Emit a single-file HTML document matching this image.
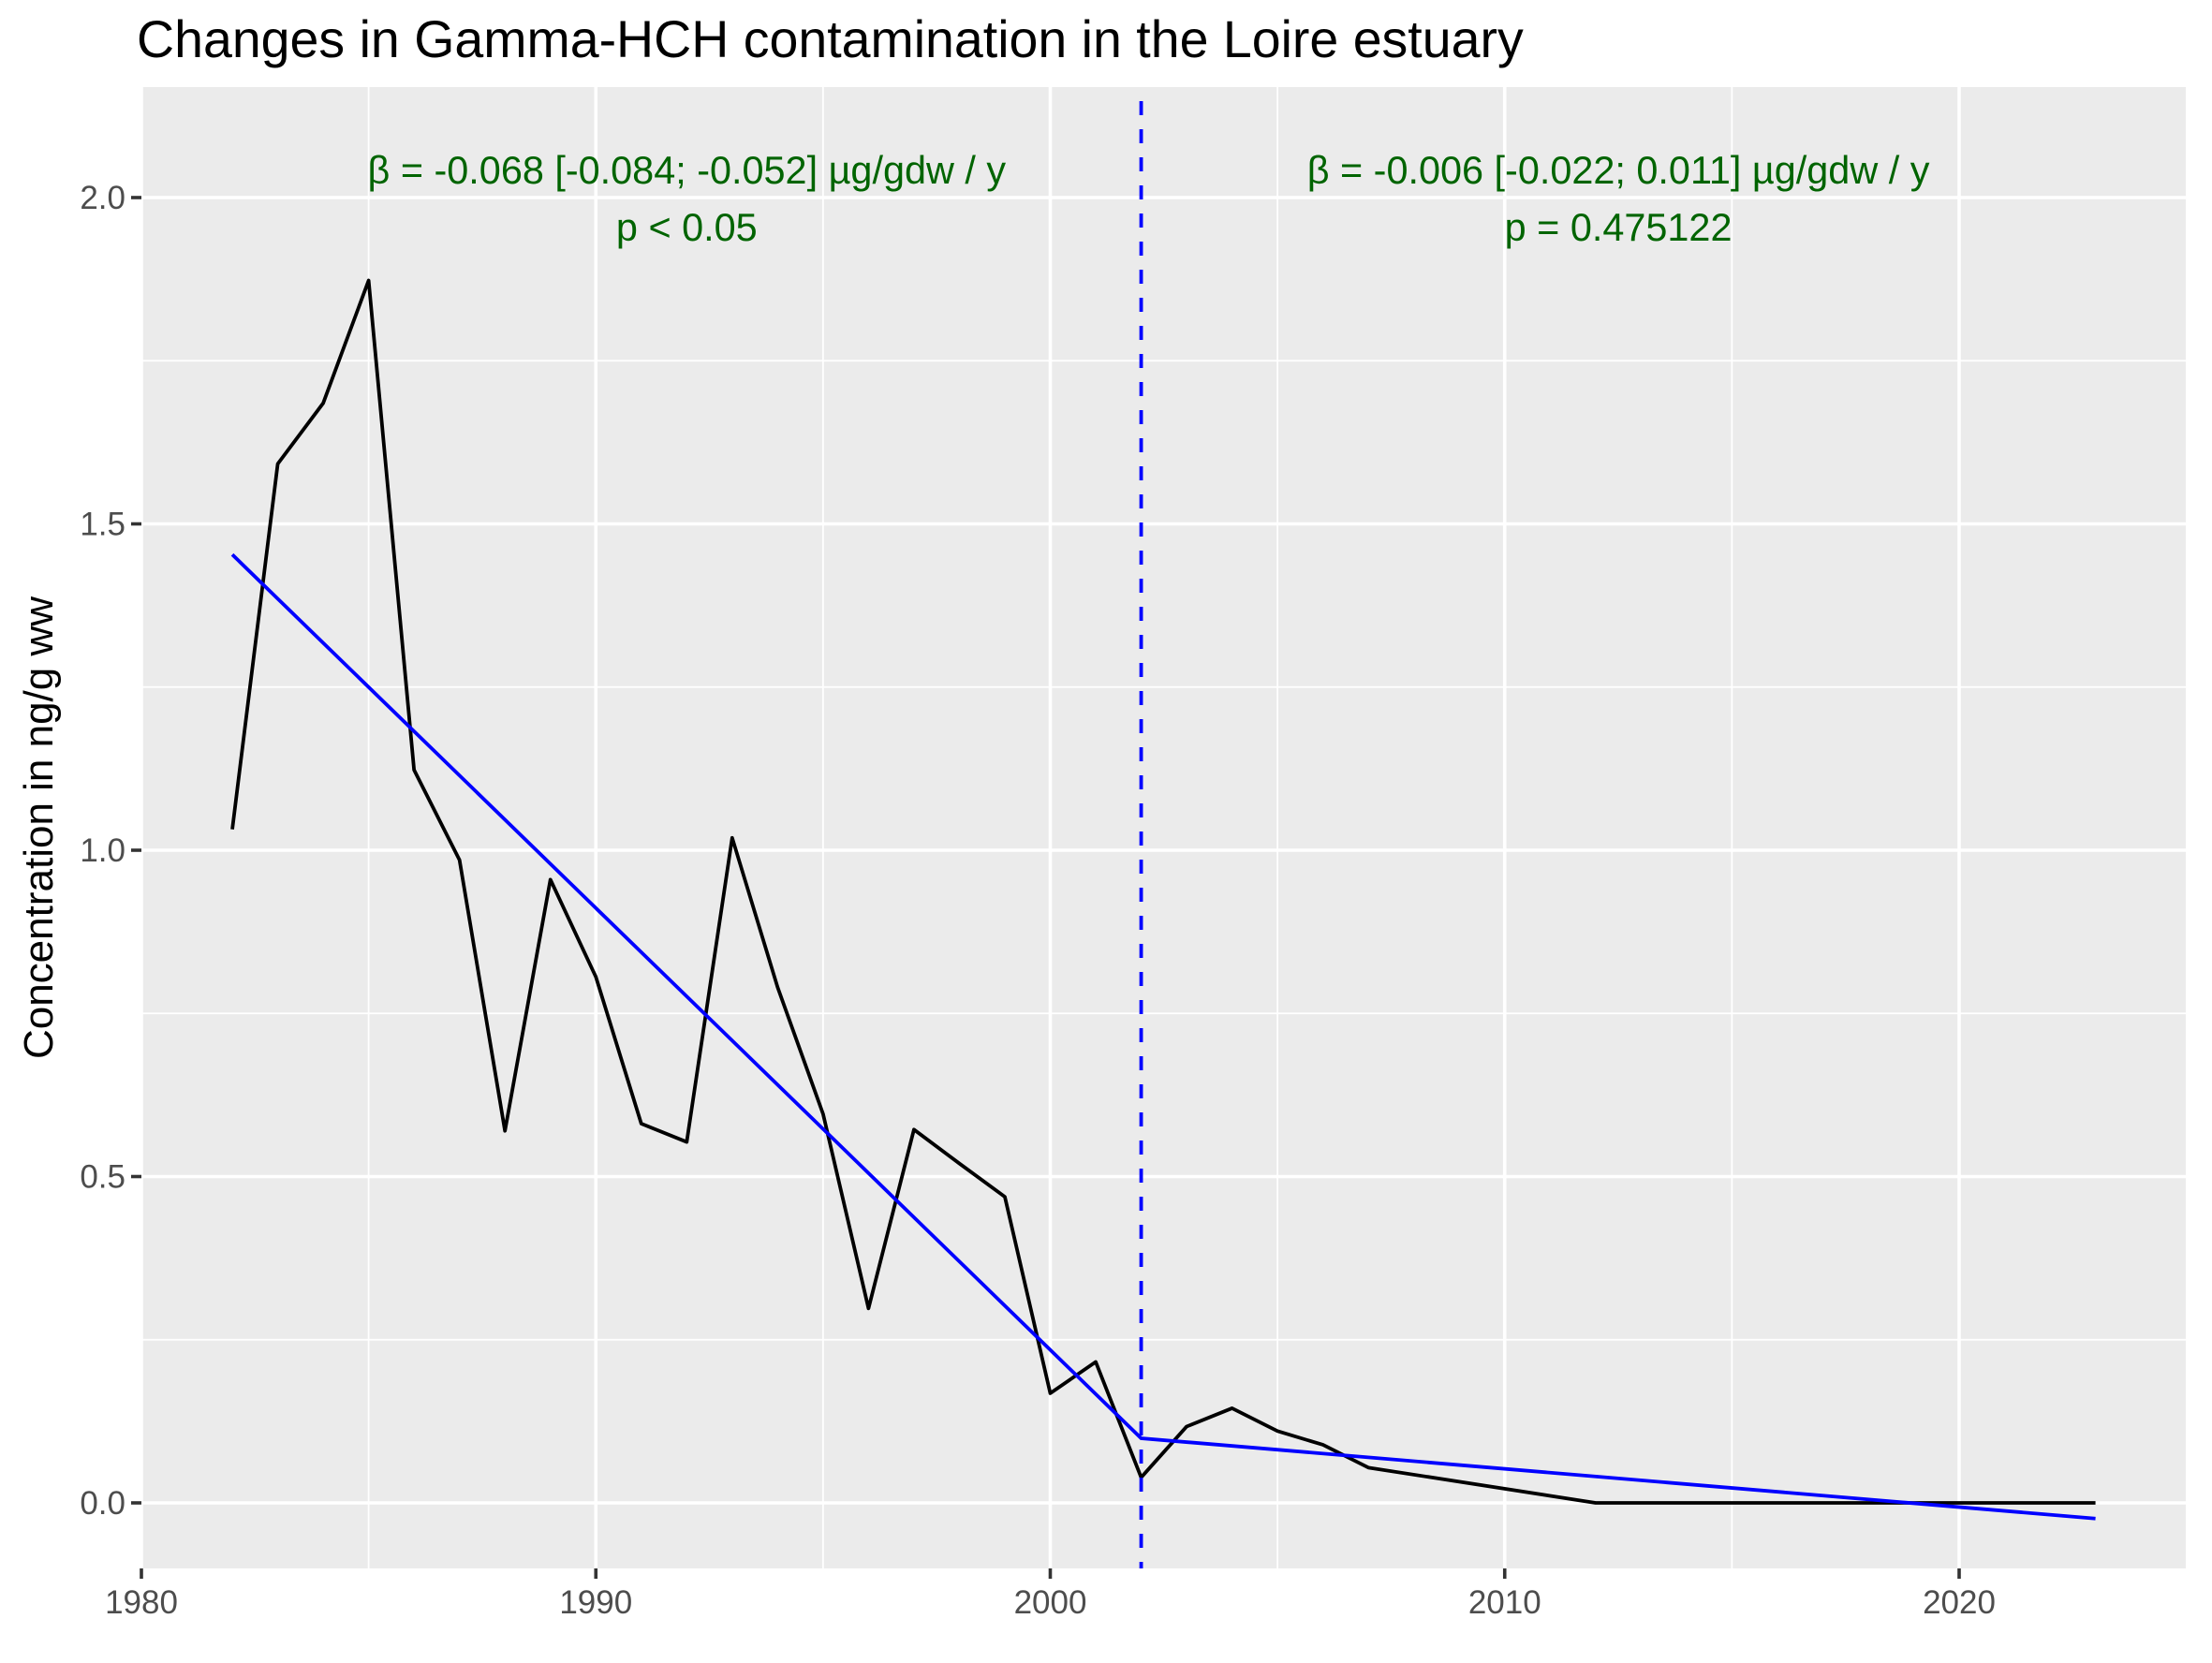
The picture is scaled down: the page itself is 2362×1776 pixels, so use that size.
<!DOCTYPE html>
<html><head><meta charset="utf-8"><style>
body{margin:0;background:#fff}
svg text{font-family:"Liberation Sans",Arial,sans-serif}
</style></head><body>
<svg id="chart" width="2362" height="1771" viewBox="0 0 2362 1771" xmlns="http://www.w3.org/2000/svg">
<rect width="2362" height="1771" fill="#fff"/>
<text x="146" y="61" font-size="55.5" fill="#000">Changes in Gamma-HCH contamination in the Loire estuary</text>
<rect x="151" y="93" width="2183" height="1582" fill="#ebebeb"/>
<g id="grid"></g>
<g id="marks"></g>
<g id="axes"></g>
<text transform="translate(56,884) rotate(-90)" text-anchor="middle" font-size="44" fill="#000">Concentration in ng/g ww</text>
</svg>
<script>
const years=[1982,1983,1984,1985,1986,1987,1988,1989,1990,1991,1992,1993,1994,1995,1996,1997,1998,1999,2000,2001,2002,2003,2004,2005,2006,2007,2012,2023];
const values=[1.032,1.592,1.685,1.873,1.123,0.985,0.570,0.955,0.806,0.581,0.553,1.019,0.790,0.596,0.298,0.572,0.520,0.469,0.168,0.216,0.039,0.117,0.145,0.110,0.089,0.054,0,0];
const trendYears=[1982,2002,2023];
const trendValues=[1.453,0.099,-0.024];
const breakYear=[2002];
const xTicks=[1980,1990,2000,2010,2020];
const xMinor=[1985,1995,2005,2015];
const yTicks=[0,0.5,1,1.5,2];
const yTickLabels=["0.0","0.5","1.0","1.5","2.0"];
const yMinor=[0.25,0.75,1.25,1.75];
const annotations=[
 {x:1992,lines:["β = -0.068 [-0.084; -0.052] µg/gdw / y","p < 0.05"]},
 {x:2012.5,lines:["β = -0.006 [-0.022; 0.011] µg/gdw / y","p = 0.475122"]}
];
const L=151,R=2334,T=93,B=1675;
const sx=v=>L+(v-1980)*(2092-L)/40;
const sy=v=>1605-v*697;
const NS="http://www.w3.org/2000/svg";
function mk(parent,tag,attrs){const e=document.createElementNS(NS,tag);for(const k in attrs)e.setAttribute(k,attrs[k]);document.getElementById(parent).appendChild(e);return e;}
xMinor.forEach(v=>{const e=mk('grid','line',{x1:sx(v),x2:sx(v),y1:T,y2:B,stroke:'#fff','stroke-width':1.8});

});
yMinor.forEach(v=>{const e=mk('grid','line',{x1:L,x2:R,y1:sy(v),y2:sy(v),stroke:'#fff','stroke-width':1.8});

});
xTicks.forEach(v=>{const e=mk('grid','line',{x1:sx(v),x2:sx(v),y1:T,y2:B,stroke:'#fff','stroke-width':3.6});


const t=mk('axes','line',{x1:sx(v),x2:sx(v),y1:B,y2:B+11,stroke:'#333','stroke-width':3.6});


const l=mk('axes','text',{x:sx(v),y:B+48,'text-anchor':'middle','font-size':35,fill:'#4d4d4d'});l.textContent=v;

});
yTicks.forEach((v,i)=>{const e=mk('grid','line',{x1:L,x2:R,y1:sy(v),y2:sy(v),stroke:'#fff','stroke-width':3.6});


const t=mk('axes','line',{x1:L-11,x2:L,y1:sy(v),y2:sy(v),stroke:'#333','stroke-width':3.6});


const l=mk('axes','text',{x:L-17,y:sy(v)+12,'text-anchor':'end','font-size':35,fill:'#4d4d4d'});l.textContent=yTickLabels[i];

});
const p=mk('marks','polyline',{points:years.map((y,i)=>sx(y)+','+sy(values[i])).join(' '),fill:'none',stroke:'#000','stroke-width':3.8,'stroke-linejoin':'round'});


const tr=mk('marks','polyline',{points:trendYears.map((y,i)=>sx(y)+','+sy(trendValues[i])).join(' '),fill:'none',stroke:'#0000ff','stroke-width':3.8});


breakYear.forEach(v=>{const e=mk('marks','line',{x1:sx(v),x2:sx(v),y1:T+15,y2:B,stroke:'#0000ff','stroke-width':3.8,'stroke-dasharray':'15,15'});

});
annotations.forEach(a=>{a.lines.forEach((s,j)=>{const t=mk('marks','text',{x:sx(a.x),y:j?257:196,'text-anchor':'middle','font-size':41.4,fill:'#006400'});t.textContent=s;

});});
</script>
</body></html>
